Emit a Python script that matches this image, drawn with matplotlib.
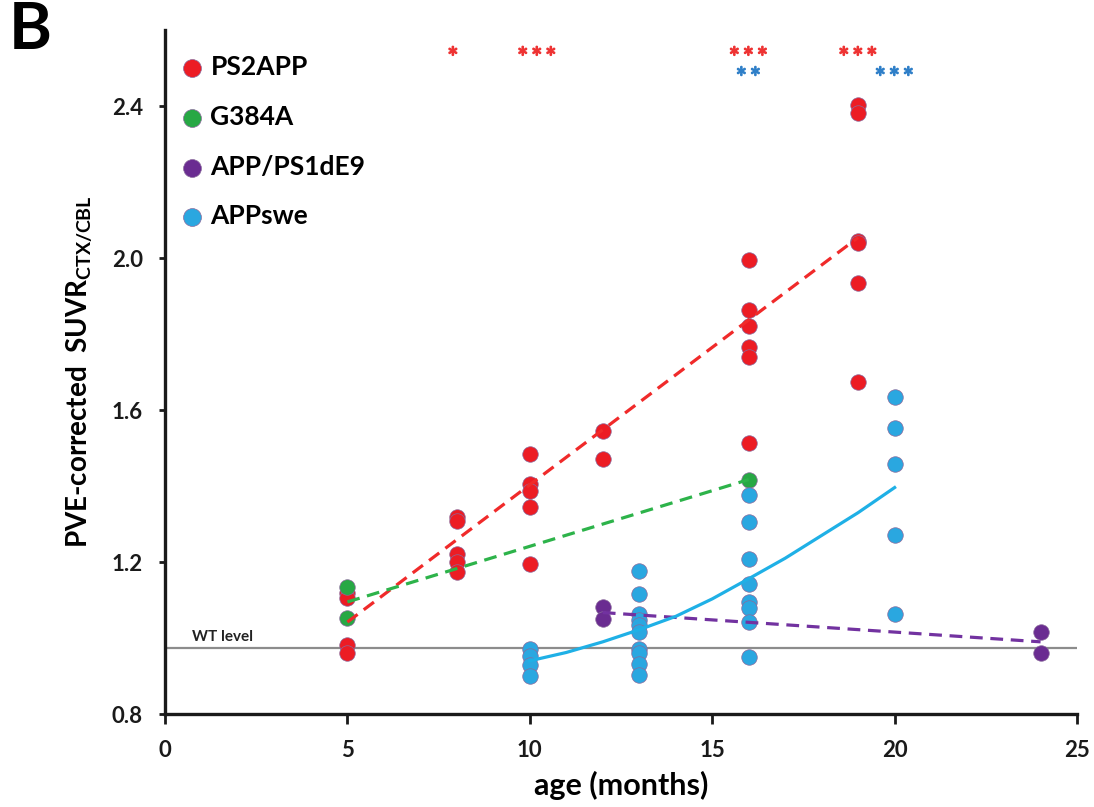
import matplotlib.pyplot as plt
import matplotlib.patheffects as pe
import numpy as np

# PS2APP
ps2app_age = [5, 5, 5, 5,
              8, 8, 8, 8, 8,
              10, 10, 10, 10, 10,
              12, 12,
              16, 16, 16, 16, 16, 16,
              19, 19, 19, 19, 19, 19]
ps2app_suvr = [1.118, 1.105, 0.981, 0.961,
               1.318, 1.307, 1.221, 1.200, 1.174,
               1.483, 1.406, 1.387, 1.345, 1.194,
               1.546, 1.471,
               1.995, 1.864, 1.822, 1.766, 1.739, 1.513,
               2.404, 2.382, 2.045, 2.040, 1.933, 1.673]

# G384A
g384a_age = [5, 5, 16]
g384a_suvr = [1.134, 1.054, 1.417]

# APP/PS1dE9
appps1_age = [12, 12, 24, 24]
appps1_suvr = [1.082, 1.051, 1.016, 0.961]

# APPswe
appswe_age = [10, 10, 10, 10,
              13, 13, 13, 13, 13, 13, 13, 13, 13, 13,
              16, 16, 16, 16, 16, 16, 16, 16,
              20, 20, 20, 20, 20]
appswe_suvr = [0.972, 0.952, 0.929, 0.900,
               1.176, 1.116, 1.064, 1.048, 1.034, 1.016, 0.972, 0.961, 0.931, 0.902,
               1.377, 1.306, 1.207, 1.143, 1.095, 1.078, 1.043, 0.951,
               1.634, 1.553, 1.457, 1.270, 1.063]

# trend lines
ps2app_fit_age = [5, 19]
ps2app_fit = [1.042, 2.054]
g384a_fit_age = [5, 16]
g384a_fit = [1.095, 1.417]
appps1_fit_age = [12, 24]
appps1_fit = [1.067, 0.990]
appswe_fit_age = [10, 11, 12, 13, 14, 15, 16, 17, 18, 19, 20]
appswe_fit = [0.940, 0.962, 0.990, 1.022, 1.057, 1.103, 1.156, 1.210, 1.270, 1.330, 1.396]

wt_level = 0.973

# significance marks
sig_red_age = [7.9, 10.2, 16, 19]
sig_red_n = [1, 3, 3, 3]
sig_blue_age = [16, 20]
sig_blue_n = [2, 3]

red = '#EC1C24'
green = '#27A844'
purple = '#6A2C91'
blue = '#2AA7E0'

plt.rcParams['font.family'] = ['Lato', 'DejaVu Sans']
plt.rcParams['font.weight'] = 'bold'
plt.rcParams['mathtext.fontset'] = 'custom'
plt.rcParams['mathtext.rm'] = 'Lato:bold'

fig = plt.figure(figsize=(10.94, 8.07), dpi=100)
ax = fig.add_axes([0.1508, 0.1152, 0.8337, 0.8476])

ax.axhline(wt_level, color='#8c8c8c', lw=1.6, zorder=1)
ax.text(0.75, wt_level + 0.02, 'WT level', fontsize=11, weight='bold', color='#222222')

pt = dict(s=125, edgecolors='#8a6a9c', linewidths=0.5, zorder=3)
ax.scatter(ps2app_age, ps2app_suvr, color=red, label='PS2APP', **pt)
ax.scatter(g384a_age, g384a_suvr, color=green, label='G384A', **pt)
ax.scatter(appps1_age, appps1_suvr, color=purple, label='APP/PS1dE9', **pt)
ax.scatter(appswe_age, appswe_suvr, color=blue, label='APPswe', **pt)

ax.plot(ps2app_fit_age, ps2app_fit, color='#F02A2A', lw=2.3, dashes=(4, 2.4), zorder=4)
ax.plot(g384a_fit_age, g384a_fit, color='#2DB34A', lw=2.3, dashes=(4, 2.4), zorder=4)
ax.plot(appps1_fit_age, appps1_fit, color='#7232A0', lw=2.3, dashes=(4, 2.4), zorder=4)
ax.plot(appswe_fit_age, appswe_fit, color='#1FB0E6', lw=2.3, zorder=4)


def stars(n):
    return '$' + r'\,'.join([r'{\ast}'] * n) + '$'


for a, n in zip(sig_red_age, sig_red_n):
    ax.text(a, 2.547, stars(n), color='#EE3333', fontsize=15, ha='center', va='center',
            path_effects=[pe.withStroke(linewidth=1.1, foreground='#EE3333')])
for a, n in zip(sig_blue_age, sig_blue_n):
    ax.text(a, 2.494, stars(n), color='#2F7FC8', fontsize=15, ha='center', va='center',
            path_effects=[pe.withStroke(linewidth=1.1, foreground='#2F7FC8')])

ax.set_xlim(0, 25)
ax.set_ylim(0.8, 2.6)
ax.set_xticks([0, 5, 10, 15, 20, 25])
ax.set_yticks([0.8, 1.2, 1.6, 2.0, 2.4])
ax.set_yticklabels(['0.8', '1.2', '1.6', '2.0', '2.4'])

for s in ['top', 'right']:
    ax.spines[s].set_visible(False)
for s in ['left', 'bottom']:
    ax.spines[s].set_linewidth(2.4)
    ax.spines[s].set_color('#1a1a1a')
ax.tick_params(axis='x', length=7, width=2, pad=12, labelsize=16, colors='#1a1a1a')
ax.tick_params(axis='y', length=4, width=2, pad=12, labelsize=16, colors='#1a1a1a')

ax.set_xlabel('age (months)', fontsize=22, weight='bold', labelpad=7)
ax.set_ylabel(r'PVE-corrected  SUVR$_{\mathrm{CTX/CBL}}$', fontsize=20, weight='bold', labelpad=12)

leg = ax.legend(loc='upper left', bbox_to_anchor=(-0.008, 0.99), frameon=False,
                fontsize=19, handletextpad=0.1, labelspacing=0.97,
                borderaxespad=0.3, handlelength=1.2, markerscale=1.15)

fig.text(0.008, 0.999, 'B', fontsize=47, weight='bold', va='top', ha='left')

fig.savefig('out.png', dpi=100)
